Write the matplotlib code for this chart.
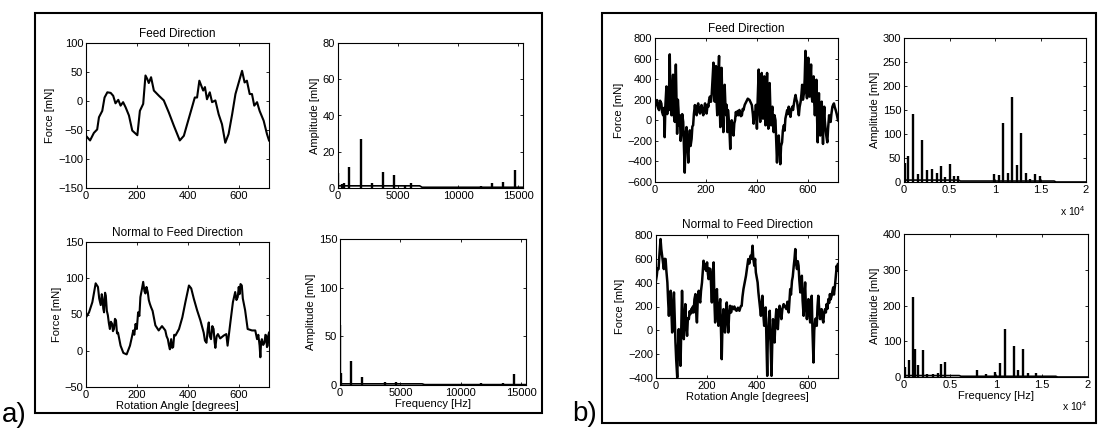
import matplotlib
matplotlib.use("Agg")
import matplotlib.pyplot as plt
from matplotlib.patches import Rectangle
import numpy as np

plt.rcParams['font.family'] = ['Liberation Sans', 'DejaVu Sans']
plt.rcParams['mathtext.fontset'] = 'custom'
plt.rcParams['mathtext.rm'] = 'Liberation Sans'

# ---- data ----
# (rotation angle [deg], force [mN]) pairs
feed_a = [(0, -60), (16, -68), (31, -55), (44, -49), (51, -28), (64, -17), (73, 6), (84, 15),
          (97, 14), (107, 9), (116, -4), (127, 2), (136, -8), (146, -2), (156, -11), (169, -25),
          (182, -51), (202, -59), (212, -17), (225, -5), (234, 44), (241, 38), (247, 31),
          (256, 41), (267, 18), (287, 9), (306, 1), (326, -20), (346, -43), (369, -68),
          (385, -60), (398, -40), (417, -11), (428, 6), (437, 6), (446, 35), (453, 27),
          (461, 18), (468, 24), (476, 3), (487, 15), (496, -2), (509, 1), (522, -23),
          (535, -40), (548, -72), (561, -57), (575, -23), (588, 12), (601, 32), (614, 52),
          (624, 32), (633, 35), (644, 12), (653, 12), (662, -8), (673, -2), (683, -17),
          (699, -34), (712, -57), (720, -68)]

normal_a = [(0, 46), (12, 53), (25, 67), (38, 93), (47, 88), (52, 72), (58, 63), (62, 78),
            (65, 72), (68, 58), (71, 53), (75, 80), (78, 76), (82, 55), (86, 49), (90, 38),
            (94, 30), (98, 40), (103, 37), (106, 27), (110, 30), (114, 44), (118, 42),
            (122, 24), (126, 25), (136, 7), (147, -3), (160, -5), (173, 7), (180, 18),
            (186, 28), (190, 22), (195, 37), (200, 30), (205, 53), (210, 48), (214, 74),
            (220, 85), (225, 95), (230, 82), (234, 79), (238, 88), (243, 81), (247, 70),
            (251, 65), (256, 60), (262, 55), (273, 35), (286, 28), (299, 34), (312, 28),
            (317, 20), (322, 16), (326, 8), (330, 2), (335, 16), (339, 4), (343, 5),
            (347, 22), (352, 21), (366, 30), (379, 46), (391, 67), (405, 90), (414, 86),
            (424, 72), (437, 56), (450, 42), (463, 25), (468, 14), (474, 11), (479, 30),
            (483, 39), (487, 20), (492, 16), (497, 34), (502, 30), (506, 12), (509, 4),
            (514, 20), (519, 23), (528, 17), (542, 21), (552, 23), (557, 7), (568, 39),
            (578, 67), (587, 81), (592, 70), (597, 74), (601, 88), (604, 78), (608, 92),
            (613, 90), (617, 72), (626, 56), (636, 30), (653, 28), (666, 28), (673, 16),
            (678, 22), (683, 7), (686, -9), (689, 12), (692, 16), (697, 8), (702, 11),
            (706, 22), (709, 21), (712, 5), (715, 7), (718, 22), (720, 25)]

feed_b = [(0, 132), (4, 180), (8, 197), (12, 120), (16, 99), (20, 190), (25, 164), (28, 80),
          (32, 49), (35, 120), (38, -164), (41, 150), (45, 329), (48, 60), (51, 246),
          (54, 100), (58, 641), (61, 150), (65, 49), (68, 300), (71, 443), (74, 50),
          (78, -16), (80, 300), (82, 542), (85, 100), (87, -131), (90, 200), (92, 115),
          (95, -50), (98, 49), (101, -200), (104, -115), (107, 60), (111, -16), (114, -250),
          (117, -509), (120, -150), (124, -66), (127, -250), (131, -411), (134, -200),
          (137, -98), (140, -250), (144, -181), (147, -60), (150, -49), (153, 60),
          (157, 148), (160, 80), (164, 49), (167, 140), (170, 164), (174, 90), (177, 66),
          (180, 120), (183, 148), (187, 80), (190, 49), (193, 110), (197, 164), (200, 90),
          (203, 66), (207, 150), (210, 132), (213, 200), (216, 230), (220, 180), (223, 246),
          (226, 380), (230, 560), (232, 300), (235, 181), (237, 400), (240, 527), (242, 200),
          (245, 49), (248, 350), (252, 625), (254, 200), (257, -66), (259, 250), (262, 510),
          (265, 150), (269, -115), (271, 200), (274, 345), (277, 150), (280, 49), (282, 150),
          (285, -115), (287, 100), (290, 16), (293, -100), (296, -279), (299, -50), (302, 0),
          (305, -80), (309, -148), (312, -30), (315, 0), (318, 80), (322, 49), (325, 90),
          (329, 49), (332, 100), (335, 82), (338, 40), (342, 49), (345, 110), (348, 99),
          (353, 150), (359, 181), (365, 210), (372, 197), (377, 170), (381, 148), (385, 60),
          (388, -33), (391, 80), (394, 16), (397, 150), (401, -82), (404, 200), (408, 493),
          (411, 100), (414, -16), (417, 250), (420, 460), (422, 150), (425, 16), (427, 200),
          (430, 427), (432, 100), (435, -49), (438, 200), (441, 460), (443, 100), (446, -82),
          (448, 150), (451, 362), (454, 100), (457, -49), (459, 80), (462, 132), (464, 0),
          (467, -115), (470, 50), (474, 0), (477, -200), (480, -411), (483, -200),
          (487, -148), (490, -300), (493, -427), (496, -250), (500, -214), (503, -100),
          (507, -49), (510, -100), (513, 16), (516, 50), (520, 99), (523, 60), (526, 132),
          (530, 80), (533, 33), (536, 100), (540, 132), (543, 100), (546, 148), (549, 200),
          (553, 246), (556, 200), (559, 181), (562, 120), (566, 49), (569, 130), (573, 181),
          (576, 250), (579, 345), (582, 200), (586, 263), (589, 400), (592, 675), (595, 300),
          (598, 214), (600, 400), (603, 608), (605, 300), (608, 230), (611, 380), (614, 542),
          (616, 250), (619, 181), (621, 300), (624, 427), (626, 200), (629, 49), (632, 200),
          (635, 394), (637, 100), (640, -214), (642, 50), (645, 263), (647, 50), (650, -148),
          (653, 50), (656, 181), (658, 0), (661, -230), (663, 0), (666, 132), (668, 0),
          (671, -82), (674, -150), (678, -214), (681, -80), (685, 49), (688, 0), (691, -16),
          (694, 60), (698, 132), (701, 150), (704, 164), (707, 130), (711, 99), (715, 60),
          (720, 0)]

normal_b = [(0, 420), (3, 458), (6, 520), (10, 514), (14, 650), (18, 766), (21, 680), (25, 612),
            (28, 560), (31, 514), (34, 600), (38, 598), (41, 500), (45, 402), (48, 250),
            (51, 122), (54, 250), (58, 332), (61, 150), (64, -18), (67, 150), (71, 318),
            (74, 100), (77, -102), (80, -250), (84, -396), (87, -150), (90, 10), (93, -150),
            (97, -298), (100, 0), (103, 332), (106, 100), (110, -74), (113, 100), (116, 220),
            (119, 50), (123, -46), (126, 100), (130, 94), (133, 160), (136, 136), (140, 180),
            (143, 150), (146, 200), (149, 150), (152, 260), (156, 304), (159, 150), (162, 66),
            (165, 250), (169, 332), (172, 260), (175, 234), (178, 330), (182, 402), (185, 500),
            (188, 584), (191, 520), (195, 556), (198, 500), (202, 570), (205, 480), (208, 430),
            (211, 520), (215, 514), (218, 380), (221, 234), (224, 450), (228, 570), (231, 250),
            (234, 66), (237, 250), (241, 346), (244, 150), (247, 38), (250, 180), (254, 262),
            (257, 0), (260, -242), (263, 50), (267, 178), (270, 60), (273, -18), (276, 150),
            (280, 234), (283, 80), (286, -18), (289, 120), (293, 206), (297, 150), (301, 200),
            (306, 178), (310, 200), (315, 170), (319, 164), (324, 190), (330, 164), (335, 200),
            (339, 206), (342, 280), (346, 346), (351, 400), (356, 458), (360, 520), (365, 598),
            (369, 560), (374, 626), (378, 600), (382, 710), (385, 600), (389, 542), (392, 600),
            (395, 486), (398, 450), (402, 402), (405, 320), (408, 262), (411, 200), (415, 122),
            (418, 220), (421, 290), (424, 150), (428, 38), (431, 150), (434, 192), (437, -100),
            (440, -382), (442, -100), (445, 10), (447, 100), (450, 164), (453, -100),
            (457, -382), (460, -100), (463, 94), (466, 0), (469, -102), (472, 60), (476, 178),
            (479, 100), (482, 10), (485, 120), (489, 206), (492, 150), (496, 94), (500, 180),
            (505, 220), (510, 200), (516, 178), (520, 240), (525, 150), (528, 250), (531, 346),
            (534, 300), (538, 416), (541, 450), (545, 542), (548, 600), (551, 682), (554, 560),
            (558, 514), (561, 580), (564, 542), (567, 420), (571, 318), (574, 420), (577, 458),
            (580, 250), (584, 122), (587, 300), (590, 402), (593, 200), (597, 94), (600, 200),
            (603, 262), (606, 150), (610, 66), (613, 200), (616, 290), (619, 0), (623, -270),
            (626, 0), (630, 94), (633, 100), (636, 38), (639, 200), (642, 290), (645, 200),
            (649, 94), (652, 150), (655, 178), (658, 100), (662, 66), (665, 150), (669, 178),
            (672, 150), (675, 220), (678, 180), (682, 262), (685, 230), (688, 304), (691, 260),
            (695, 290), (698, 330), (701, 360), (704, 300), (708, 374), (711, 450), (715, 542),
            (718, 500), (720, 556)]

# spectra: peak frequencies [Hz] and amplitudes [mN]
spec_feed_a_f = [0, 300, 500, 950, 1900, 2850, 3750, 4700, 5600, 6100, 11900, 12850, 13750, 14700]
spec_feed_a_amp = [8, 2, 3, 11.5, 27, 3, 9, 7, 1.5, 3, 1, 3, 3.5, 10]
spec_normal_a_f = [0, 100, 930, 1860, 3750, 4650, 10850, 11700, 13500, 14400]
spec_normal_a_amp = [62, 12, 25, 8, 3, 3, 1.5, 2.5, 2.5, 11]
spec_feed_b_f = [100, 480, 1020, 1500, 2010, 2500, 3040, 3590, 4030, 4500, 5020, 5530, 5970,
                 9930, 10440, 10910, 11390, 11830, 12380, 12860, 13400, 13880, 14400, 14950]
spec_feed_b_amp = [40, 55, 141, 17, 87, 26, 28, 19, 33, 10, 37, 12, 12,
                   16, 15, 123, 19, 177, 35, 102, 19, 7, 16, 12]
spec_normal_b_f = [100, 550, 1020, 1200, 1570, 2080, 2550, 3100, 3650, 4010, 4490, 7960, 8940,
                   9930, 10400, 10950, 11930, 12400, 12960, 13500, 14400]
spec_normal_b_amp = [28, 48, 223, 79, 33, 76, 9, 7, 11, 37, 42, 19, 9,
                     15, 40, 135, 86, 19, 79, 11, 11]

# low noise floor under the peaks
floor_a_f = [0, 6800, 7000, 15400]
floor_a_amp = [1.2, 1.2, 0.4, 0.4]
floor_b_f = [0, 6000, 6200, 16500, 16700, 20000]
floor_b_amp = [4, 4, 2, 2, 0, 0]

W, H = 1100, 428


def px_rect(left, top, right, bottom):
    return [left / W, 1 - bottom / H, (right - left) / W, (bottom - top) / H]


def style(ax):
    ax.tick_params(direction="in", top=True, right=True, length=2.5, width=0.6,
                   labelsize=8, pad=2)
    for s in ax.spines.values():
        s.set_linewidth(0.8)


def trace(ax, pairs, ylim, yticks, title, xlabel=None, pad=4, lw=1.5):
    deg, force = np.array(pairs).T
    ax.plot(deg, force, color="black", lw=lw)
    ax.set_xlim(0, 720)
    ax.set_ylim(*ylim)
    ax.set_xticks([0, 200, 400, 600])
    ax.set_yticks(yticks)
    ax.set_title(title, fontsize=8.5, pad=pad)
    ax.set_ylabel("Force [mN]", fontsize=8, labelpad=2)
    if xlabel:
        ax.set_xlabel(xlabel, fontsize=8, labelpad=1)
    style(ax)


def spectrum(ax, f, amp, floor_f, floor_amp, xmax, ylim, yticks, xlabel=None, scaled=False):
    ax.vlines(f, 0, amp, color="black", lw=1.7)
    ax.plot(floor_f, floor_amp, color="black", lw=1.2)
    ax.set_xlim(0, xmax)
    ax.set_ylim(*ylim)
    ax.set_yticks(yticks)
    if scaled:
        ax.set_xticks([0, 5000, 10000, 15000, 20000])
        ax.set_xticklabels(["0", "0.5", "1", "1.5", "2"])
    else:
        ax.set_xticks([0, 5000, 10000, 15000])
    ax.set_ylabel("Amplitude [mN]", fontsize=8, labelpad=2)
    if xlabel:
        ax.set_xlabel(xlabel, fontsize=8, labelpad=1)
    style(ax)


fig = plt.figure(figsize=(11, 4.28), dpi=100)

# panel borders
fig.add_artist(Rectangle((35 / W, 1 - 413 / H), 507 / W, 400 / H, transform=fig.transFigure,
                         fill=False, lw=1.5, color="black"))
fig.add_artist(Rectangle((602 / W, 1 - 423 / H), 494 / W, 410 / H, transform=fig.transFigure,
                         fill=False, lw=1.5, color="black"))

# a)
ax = fig.add_axes(px_rect(86, 43, 269, 188))
trace(ax, feed_a, (-150, 100), [-150, -100, -50, 0, 50, 100], "Feed Direction")
ax = fig.add_axes(px_rect(338, 43, 523, 188))
spectrum(ax, spec_feed_a_f, spec_feed_a_amp, floor_a_f, floor_a_amp, 15400, (0, 80),
         [0, 20, 40, 60, 80])
ax = fig.add_axes(px_rect(86, 242, 269, 387))
trace(ax, normal_a, (-50, 150), [-50, 0, 50, 100, 150], "Normal to Feed Direction",
      xlabel="Rotation Angle [degrees]")
ax = fig.add_axes(px_rect(340, 239, 526, 385))
spectrum(ax, spec_normal_a_f, spec_normal_a_amp, floor_a_f, floor_a_amp, 15400, (0, 150),
         [0, 50, 100, 150], xlabel="Frequency [Hz]")

# b)
ax = fig.add_axes(px_rect(655, 38, 838, 182))
trace(ax, feed_b, (-600, 800), [-600, -400, -200, 0, 200, 400, 600, 800], "Feed Direction",
      lw=1.8)
ax = fig.add_axes(px_rect(904, 38, 1086, 182))
spectrum(ax, spec_feed_b_f, spec_feed_b_amp, floor_b_f, floor_b_amp, 20000, (0, 300),
         [0, 50, 100, 150, 200, 250, 300], scaled=True)
ax = fig.add_axes(px_rect(656, 235, 838, 378))
trace(ax, normal_b, (-400, 800), [-400, -200, 0, 200, 400, 600, 800],
      "Normal to Feed Direction", xlabel="Rotation Angle [degrees]", pad=5, lw=1.8)
ax = fig.add_axes(px_rect(904, 234, 1088, 377))
spectrum(ax, spec_normal_b_f, spec_normal_b_amp, floor_b_f, floor_b_amp, 20000, (0, 400),
         [0, 100, 200, 300, 400], xlabel="Frequency [Hz]", scaled=True)

fig.text(1060 / W, 1 - 211 / H, r"x 10$^4$", fontsize=7.5, va="center")
fig.text(1062 / W, 1 - 406 / H, r"x 10$^4$", fontsize=7.5, va="center")

fig.text(2 / W, 1 - 422 / H, "a)", fontsize=20, va="baseline")
fig.text(572 / W, 1 - 421 / H, "b)", fontsize=20, va="baseline")

fig.savefig("out.png", dpi=100)
